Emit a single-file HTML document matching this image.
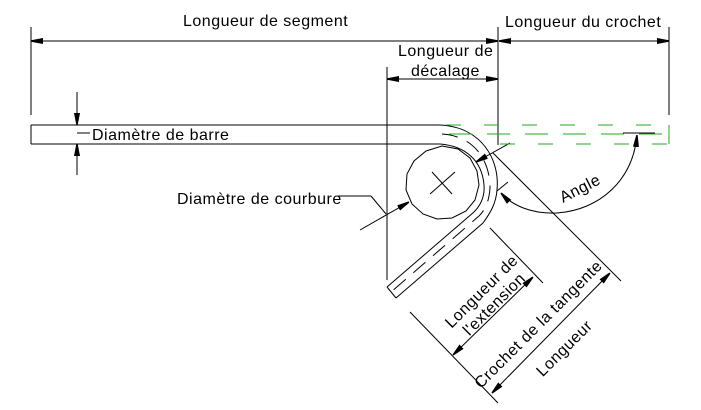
<!DOCTYPE html>
<html><head><meta charset="utf-8"><style>
html,body{margin:0;padding:0;background:#fff}
svg{display:block}
text{font-family:"Liberation Sans",sans-serif;font-size:16px;letter-spacing:0.5px;fill:#000}
</style></head><body>
<svg width="701" height="410" viewBox="0 0 701 410" xmlns="http://www.w3.org/2000/svg">
<defs>
<marker id="a" viewBox="0 0 12 6" refX="12" refY="3" markerWidth="12" markerHeight="6" markerUnits="userSpaceOnUse" orient="auto"><path d="M0,0 L12,2.3 L12,3.7 L0,6 Z" fill="#000"/></marker>
</defs>
<g stroke="#000" stroke-width="1" fill="none">
<line x1="31" y1="27" x2="31" y2="115"/>
<line x1="498" y1="27" x2="498" y2="145"/>
<line x1="669" y1="27" x2="669" y2="115"/>
<line x1="387" y1="67" x2="387" y2="280"/>
<line x1="498" y1="41" x2="31" y2="41" marker-end="url(#a)"/>
<line x1="300" y1="41" x2="498" y2="41" marker-end="url(#a)"/>
<line x1="600" y1="41" x2="499" y2="41" marker-end="url(#a)"/>
<line x1="560" y1="41" x2="669" y2="41" marker-end="url(#a)"/>
<line x1="440" y1="79" x2="387" y2="79" marker-end="url(#a)"/>
<line x1="440" y1="79" x2="498" y2="79" marker-end="url(#a)"/>
<line x1="31" y1="125" x2="440" y2="125"/>
<line x1="31" y1="144" x2="440" y2="144"/>
<line x1="31" y1="125" x2="31" y2="144"/>
<line x1="77" y1="92" x2="77" y2="125" marker-end="url(#a)"/>
<line x1="77" y1="175" x2="77" y2="144" marker-end="url(#a)"/>
<line x1="77" y1="133" x2="90" y2="133"/>
<path d="M440,125 C482,127 500,160 497,190 C496,203 491,212 483,223 L396,298"/>
<path d="M440,144 C465,146 482,160 484,185 C485,198 480,206 474,212 L387,287"/>
<line x1="387" y1="287" x2="396" y2="298"/>
<path d="M442,134 C474,136 490,160 490,188 C489,202 485,210 479,216 L391,292" stroke-dasharray="16,10"/>
<polygon points="442,146 458,149 470,158 477,171 479,185 475,200 466,211 452,218 437,219 423,214 412,204 406,190 407,174 414,161 426,151"/>
<line x1="432" y1="172" x2="452" y2="194"/>
<line x1="430" y1="194" x2="455" y2="172"/>
<line x1="338" y1="196" x2="371" y2="196"/>
<line x1="371" y1="196" x2="386" y2="214"/>
<line x1="360" y1="230" x2="409" y2="202" marker-end="url(#a)"/>
<line x1="510" y1="143" x2="476" y2="162" marker-end="url(#a)"/>
<line x1="493" y1="153" x2="621" y2="281"/>
<line x1="508" y1="182" x2="497" y2="191"/>
<line x1="490" y1="228" x2="543" y2="283"/>
<line x1="410" y1="312" x2="498" y2="403"/>
<line x1="493" y1="316" x2="533" y2="277" marker-end="url(#a)"/>
<line x1="493" y1="316" x2="453" y2="355" marker-end="url(#a)"/>
<line x1="551" y1="333" x2="610" y2="273" marker-end="url(#a)"/>
<line x1="551" y1="333" x2="492" y2="393" marker-end="url(#a)"/>
<path d="M557,213 C530,214 512,205 501,193" marker-end="url(#a)"/>
<path d="M557,213 C600,210 633,180 637,135" marker-end="url(#a)"/>
<line x1="623" y1="133" x2="655" y2="133"/>
</g>
<g stroke="#22aa22" stroke-width="1" fill="none">
<line x1="446" y1="125" x2="669" y2="125" stroke-dasharray="15,23"/>
<line x1="444" y1="134" x2="669" y2="134" stroke-dasharray="23,15" stroke-dashoffset="-5"/>
<line x1="490" y1="144" x2="669" y2="144" stroke-dasharray="15,23" stroke-dashoffset="-10"/>
<line x1="669" y1="125" x2="669" y2="144"/>
</g>
<text x="183" y="26">Longueur de segment</text>
<text x="505" y="27">Longueur du crochet</text>
<text x="398" y="56">Longueur de</text>
<text x="411" y="76">décalage</text>
<text x="92" y="140">Diamètre de barre</text>
<text x="177" y="204">Diamètre de courbure</text>
<text transform="translate(563,203) rotate(-27)">Angle</text>
<g transform="translate(488,298) rotate(-45)" text-anchor="middle">
<text x="0" y="-4">Longueur de</text>
<text x="0" y="14">l'extension</text>
</g>
<text transform="translate(542,328) rotate(-45)" text-anchor="middle">Crochet de la tangente</text>
<text transform="translate(568,352) rotate(-45)" text-anchor="middle">Longueur</text>
</svg>
</body></html>
